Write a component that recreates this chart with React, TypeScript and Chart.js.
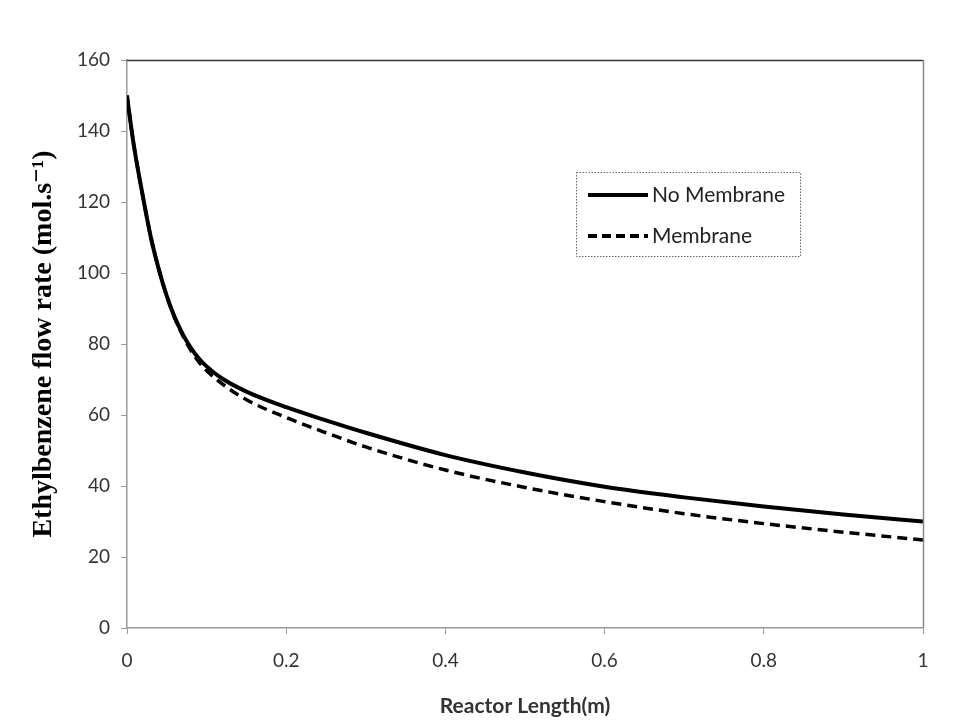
import React, { useEffect, useRef } from "react";
import { Chart, registerables } from "chart.js";

Chart.register(...registerables);

const xValues = [0, 0.005, 0.01, 0.02, 0.03, 0.04, 0.05, 0.06, 0.07, 0.08, 0.09, 0.1, 0.12, 0.15, 0.2, 0.25, 0.3, 0.4, 0.5, 0.6, 0.7, 0.8, 0.9, 1.0];
const noMembrane = [150, 141.5, 134, 121.5, 110, 101, 93.5, 87.5, 82.8, 79, 76, 73.7, 70.2, 66.6, 62.2, 58.5, 55, 48.7, 43.8, 39.8, 36.8, 34.2, 32, 30];
const membrane = [150, 141.5, 134, 121.5, 110, 101, 93.5, 87.3, 82.4, 78.3, 75, 72.5, 68.7, 64.3, 59.3, 55, 51, 44.5, 39.6, 35.6, 32.2, 29.4, 27, 24.8];
const seriesNames = ["No Membrane", "Membrane"];
const xTitle = "Reactor Length(m)";
const yTitle = "Ethylbenzene flow rate (mol.s\u207B\u00B9)";

const frameAndLegend = {
  id: "frameAndLegend",
  afterDatasetsDraw(chart: any) {
    const { ctx, chartArea } = chart;
    const { left, right, top, bottom } = chartArea;
    ctx.save();
    ctx.strokeStyle = "#333";
    ctx.lineWidth = 1.5;
    ctx.beginPath();
    ctx.moveTo(left, top + 0.5);
    ctx.lineTo(right, top + 0.5);
    ctx.stroke();
    ctx.strokeStyle = "#888";
    ctx.lineWidth = 1.5;
    ctx.beginPath();
    ctx.moveTo(right + 0.5, top);
    ctx.lineTo(right + 0.5, bottom);
    ctx.stroke();

    const bx = 576.5, by = 172.5, bw = 224, bh = 84;
    ctx.fillStyle = "#fff";
    ctx.fillRect(bx, by, bw, bh);
    ctx.strokeStyle = "#666";
    ctx.lineWidth = 1;
    ctx.setLineDash([1.5, 1.5]);
    ctx.strokeRect(bx, by, bw, bh);
    ctx.setLineDash([]);
    ctx.strokeStyle = "#000";
    ctx.lineWidth = 4;
    ctx.beginPath();
    ctx.moveTo(588, 195);
    ctx.lineTo(648, 195);
    ctx.stroke();
    ctx.setLineDash([9, 5]);
    ctx.beginPath();
    ctx.moveTo(588, 236);
    ctx.lineTo(648, 236);
    ctx.stroke();
    ctx.setLineDash([]);
    ctx.fillStyle = "#222";
    ctx.font = "21px Lato, 'Open Sans', sans-serif";
    ctx.textBaseline = "middle";
    ctx.textAlign = "left";
    ctx.fillText(seriesNames[0], 652, 195);
    ctx.fillText(seriesNames[1], 652, 236);
    ctx.restore();
  },
};

export default function App() {
  const ref = useRef<HTMLCanvasElement | null>(null);
  useEffect(() => {
    if (!ref.current) return;
    const chart = new Chart(ref.current, {
      type: "line",
      data: {
        datasets: [
          {
            label: seriesNames[0],
            data: xValues.map((x, i) => ({ x, y: noMembrane[i] })),
            borderColor: "#000",
            borderWidth: 4,
            pointRadius: 0,
            cubicInterpolationMode: "monotone",
            fill: false,
          },
          {
            label: seriesNames[1],
            data: xValues.map((x, i) => ({ x, y: membrane[i] })),
            borderColor: "#000",
            borderWidth: 3.5,
            borderDash: [10, 6],
            pointRadius: 0,
            cubicInterpolationMode: "monotone",
            fill: false,
          },
        ],
      },
      options: {
        animation: false,
        responsive: false,
        maintainAspectRatio: false,
        layout: { padding: { left: 0, right: 50, top: 60, bottom: 0 } },
        plugins: { legend: { display: false }, tooltip: { enabled: false } },
        scales: {
          x: {
            type: "linear",
            min: 0,
            max: 1,
            ticks: {
              stepSize: 0.2,
              color: "#333",
              font: { size: 19, family: "Lato, 'Open Sans', sans-serif" },
              padding: 15,
              callback: (v: any) => Number(Number(v).toFixed(1)).toString(),
              maxRotation: 0,
            },
            grid: { drawOnChartArea: false, drawTicks: true, tickLength: 6, color: "#999" },
            border: { color: "#999", width: 1.5 },
            title: {
              display: true,
              text: xTitle,
              color: "#333",
              font: { size: 21, weight: "bold", family: "Lato, 'Open Sans', sans-serif" },
              padding: { top: 4, bottom: 1.5 },
            },
            afterFit: (scale: any) => {
              scale.height = 92;
            },
          },
          y: {
            min: 0,
            max: 160,
            ticks: {
              stepSize: 20,
              color: "#333",
              font: { size: 19, family: "Lato, 'Open Sans', sans-serif" },
              padding: 11,
            },
            grid: { drawOnChartArea: false, drawTicks: true, tickLength: 6, color: "#999" },
            border: { color: "#999", width: 1.5 },
            title: {
              display: true,
              text: yTitle,
              color: "#000",
              font: { size: 28, weight: "bold", family: "'Liberation Serif', 'DejaVu Serif', serif" },
              padding: { top: 27, bottom: 0 },
            },
            afterFit: (scale: any) => {
              scale.width = 127;
            },
          },
        },
      },
      plugins: [frameAndLegend],
    });
    return () => chart.destroy();
  }, []);
  return (
    <div style={{ position: "fixed", left: 0, top: 0, width: 973, height: 720, background: "#fff" }}>
      <canvas ref={ref} width={973} height={720} style={{ width: 973, height: 720 }} />
    </div>
  );
}
